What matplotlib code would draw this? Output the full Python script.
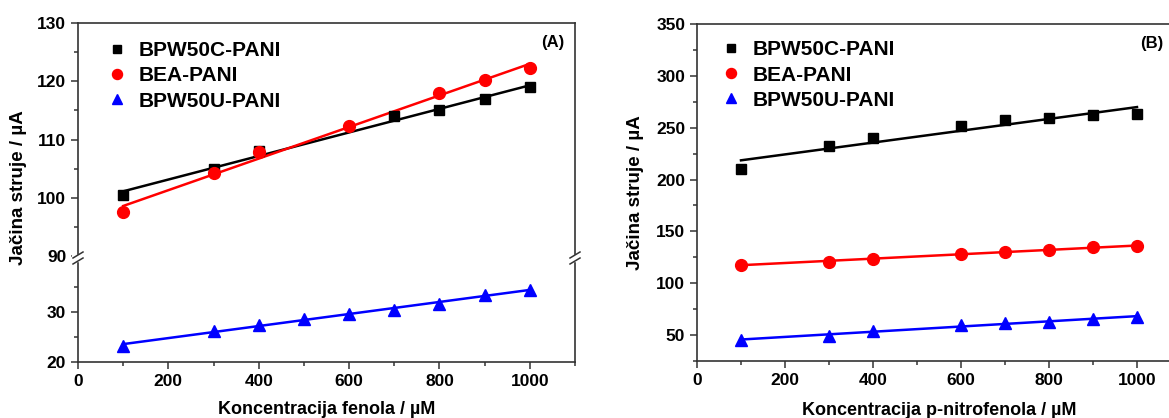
import numpy as np
import matplotlib
matplotlib.use('Agg')
import matplotlib.pyplot as plt
from matplotlib.ticker import MultipleLocator

plt.rcParams['font.family'] = ['Liberation Sans', 'DejaVu Sans']
plt.rcParams['font.weight'] = 'bold'

# (A) fenol
x_c_a = [100, 300, 400, 700, 800, 900, 1000]
y_c_a = [100.5, 105.0, 108.0, 114.0, 115.0, 117.0, 119.0]
x_e_a = [100, 300, 400, 600, 800, 900, 1000]
y_e_a = [97.5, 104.3, 107.8, 112.3, 117.9, 120.3, 122.2]
x_u_a = [100, 300, 400, 500, 600, 700, 800, 900, 1000]
y_u_a = [23.2, 26.2, 27.5, 28.6, 29.7, 30.5, 31.7, 33.4, 34.4]

# (B) p-nitrofenol
x_b = [100, 300, 400, 600, 700, 800, 900, 1000]
y_c_b = [210, 232.5, 240, 252, 257, 259.5, 262.5, 263]
y_e_b = [118, 120.7, 123.8, 128, 129.8, 132.5, 134.5, 136.2]
y_u_b = [45.5, 49.5, 53.5, 60, 62, 62.5, 65.5, 67.5]

serije = ['BPW50C-PANI', 'BEA-PANI', 'BPW50U-PANI']
boje = ['black', '#ff0000', '#0000ff']
markeri = ['s', 'o', '^']
velicine = [7.5, 8.5, 9]
ivica = '#333333'

W, H = 1169, 418
fig = plt.figure(figsize=(W / 100, H / 100), dpi=100)


def px(x0, y0, x1, y1):
    # pozicija ose iz piksela (gore-levo / dole-desno)
    return [x0 / W, 1 - y1 / H, (x1 - x0) / W, (y1 - y0) / H]


def stil_ose(ax):
    for s in ax.spines.values():
        s.set_color(ivica)
        s.set_linewidth(1.2)
    ax.tick_params(which='both', direction='out', color=ivica, width=1.1,
                   labelsize=12.5, top=False, right=False)
    ax.tick_params(which='major', length=5)
    ax.tick_params(which='minor', length=3)
    for lab in ax.get_xticklabels() + ax.get_yticklabels():
        lab.set_fontweight('bold')


def crtaj(ax, x, y, i, label=None):
    k, n = np.polyfit(x, y, 1)
    xx = np.array([min(x), max(x)])
    ax.plot(xx, k * xx + n, color=boje[i], lw=1.8, zorder=2)
    ax.plot(x, y, ls='none', marker=markeri[i], ms=velicine[i], color=boje[i],
            label=label, zorder=3)


def legenda(ax, x0, y0):
    ax.legend(loc='upper left', bbox_to_anchor=(x0, y0), frameon=False,
              prop={'size': 15, 'weight': 'bold'}, handlelength=0.9,
              handletextpad=0.6, labelspacing=0.3, markerscale=0.85,
              borderaxespad=0.3)


# ---------- panel A (prekinuta y osa) ----------
ax_g = fig.add_axes(px(78, 23, 575, 256))
ax_d = fig.add_axes(px(78, 259, 575, 362))

crtaj(ax_g, x_c_a, y_c_a, 0, serije[0])
crtaj(ax_g, x_e_a, y_e_a, 1, serije[1])
crtaj(ax_d, x_u_a, y_u_a, 2)
ax_g.plot([], [], ls='none', marker=markeri[2], ms=velicine[2], color=boje[2], label=serije[2])

for ax in (ax_g, ax_d):
    ax.set_xlim(0, 1100)
    ax.xaxis.set_major_locator(MultipleLocator(200))
    ax.xaxis.set_minor_locator(MultipleLocator(100))
ax_g.set_ylim(90, 130)
ax_g.set_yticks([90, 100, 110, 120, 130])
ax_g.yaxis.set_minor_locator(MultipleLocator(5))
ax_d.set_ylim(20, 40.6)
ax_d.set_yticks([20, 30])
ax_d.set_yticks([25, 35], minor=True)
ax_g.spines['bottom'].set_visible(False)
ax_d.spines['top'].set_visible(False)
ax_g.tick_params(axis='x', which='both', bottom=False, labelbottom=False)
stil_ose(ax_g)
stil_ose(ax_d)
ax_d.set_xlabel('Koncentracija fenola / µM', fontsize=13, fontweight='bold', labelpad=9)
fig.text(19 / W, 1 - 188 / H, 'Jačina struje / µA', rotation=90, ha='center', va='center',
         fontsize=13.5, fontweight='bold')
ax_g.text(0.956, 0.915, '(A)', transform=ax_g.transAxes, ha='center', va='center',
          fontsize=12, fontweight='bold')

# znaci prekida
for xp in (78, 575):
    fig.patches.append(plt.Rectangle(((xp - 6) / W, 1 - 261 / H), 12 / W, 6 / H,
                                     transform=fig.transFigure, color='white', zorder=5))
    for dy in (-3, 3):
        yc = 258 + dy
        fig.add_artist(plt.Line2D([(xp - 5) / W, (xp + 5) / W],
                                  [1 - (yc + 3) / H, 1 - (yc - 3) / H],
                                  color=ivica, lw=1.1, zorder=6))

legenda(ax_g, 0.03, 0.985)

# ---------- panel B ----------
ax_b = fig.add_axes(px(697, 24, 1181, 361))
crtaj(ax_b, x_b, y_c_b, 0, serije[0])
crtaj(ax_b, x_b, y_e_b, 1, serije[1])
crtaj(ax_b, x_b, y_u_b, 2, serije[2])
ax_b.set_xlim(0, 1100)
ax_b.xaxis.set_major_locator(MultipleLocator(200))
ax_b.xaxis.set_minor_locator(MultipleLocator(100))
ax_b.set_ylim(25, 350)
ax_b.set_yticks(range(50, 351, 50))
ax_b.yaxis.set_minor_locator(MultipleLocator(25))
stil_ose(ax_b)
ax_b.set_xlabel('Koncentracija p-nitrofenola / µM', fontsize=13, fontweight='bold', labelpad=10)
ax_b.set_ylabel('Jačina struje / µA', fontsize=13.5, fontweight='bold', labelpad=9)
ax_b.text(1034, 331, '(B)', ha='center', va='center', fontsize=12, fontweight='bold')
legenda(ax_b, 0.02, 0.995)

fig.savefig('out.png', dpi=100)
